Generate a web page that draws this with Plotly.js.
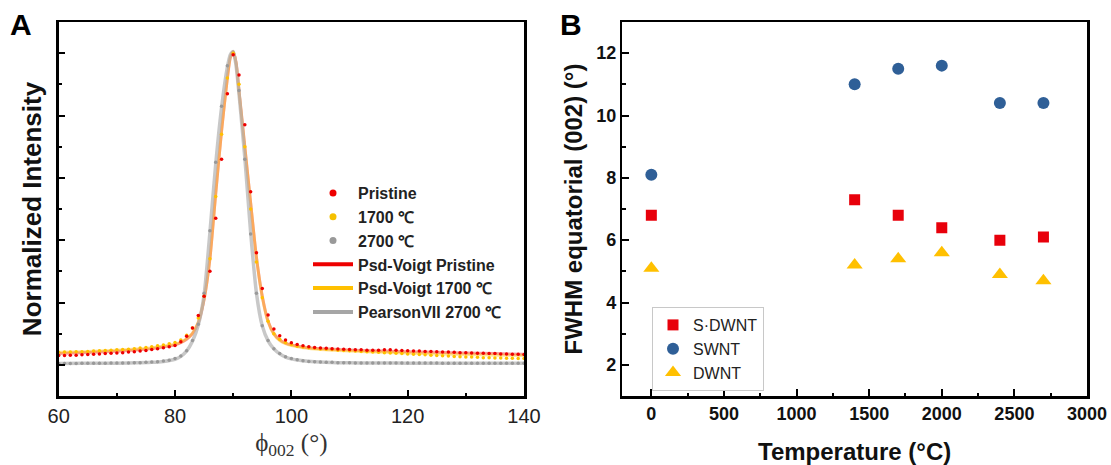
<!DOCTYPE html>
<html>
<head>
<meta charset="utf-8">
<script src="https://cdn.plot.ly/plotly-3.0.1.min.js"></script>
<style>html,body{margin:0;padding:0;background:#fff;}#chart{width:1111px;height:465px;}</style>
</head>
<body>
<div id="chart"></div>
<script>
// ---------- Panel A data ----------
var dotX = [60,61,62,63,64,65,66,67,68,69,70,71,72,73,74,75,76,77,78,79,80,81,82,83,84,85,86,87,88,89,90,91,92,93,94,95,96,97,98,99,100,101,102,103,104,105,106,107,108,109,110,111,112,113,114,115,116,117,118,119,120,121,122,123,124,125,126,127,128,129,130,131,132,133,134,135,136,137,138,139,140];
var pristineDots = [0.030,0.030,0.031,0.031,0.032,0.033,0.034,0.035,0.036,0.037,0.038,0.039,0.041,0.042,0.044,0.046,0.049,0.052,0.055,0.058,0.062,0.074,0.092,0.118,0.158,0.220,0.300,0.470,0.660,0.870,0.995,0.930,0.770,0.555,0.360,0.245,0.160,0.115,0.093,0.080,0.071,0.065,0.061,0.058,0.056,0.054,0.053,0.052,0.051,0.050,0.049,0.048,0.048,0.047,0.047,0.047,0.048,0.048,0.047,0.046,0.045,0.044,0.044,0.043,0.043,0.042,0.041,0.041,0.040,0.039,0.039,0.038,0.037,0.037,0.036,0.036,0.035,0.035,0.034,0.034,0.033];
var dots1700 = [0.040,0.041,0.041,0.042,0.042,0.043,0.044,0.045,0.046,0.047,0.048,0.049,0.050,0.052,0.054,0.056,0.058,0.061,0.064,0.068,0.072,0.080,0.095,0.118,0.150,0.220,0.340,0.540,0.740,0.920,1.000,0.900,0.700,0.500,0.330,0.215,0.140,0.100,0.082,0.072,0.065,0.060,0.057,0.055,0.053,0.051,0.050,0.049,0.047,0.046,0.045,0.044,0.043,0.042,0.041,0.040,0.039,0.038,0.037,0.036,0.035,0.034,0.033,0.032,0.031,0.030,0.029,0.028,0.027,0.026,0.025,0.025,0.024,0.023,0.023,0.022,0.022,0.021,0.021,0.020,0.020];
var dots2700 = [0.004,0.004,0.004,0.004,0.005,0.005,0.005,0.005,0.005,0.006,0.006,0.006,0.006,0.007,0.007,0.008,0.009,0.010,0.012,0.015,0.020,0.028,0.045,0.078,0.130,0.230,0.430,0.650,0.830,0.960,1.000,0.880,0.660,0.420,0.230,0.125,0.078,0.052,0.036,0.026,0.020,0.016,0.013,0.011,0.010,0.009,0.008,0.008,0.007,0.007,0.007,0.006,0.006,0.006,0.006,0.006,0.006,0.006,0.006,0.006,0.006,0.006,0.006,0.006,0.006,0.006,0.005,0.005,0.005,0.005,0.005,0.005,0.005,0.005,0.005,0.005,0.005,0.005,0.005,0.005,0.005];

var fitX = [60,64,68,72,76,78,80,81,82,83,84,85,86,87,88,89,89.5,90,90.5,91,92,93,94,95,96,97,98,99,100,102,104,108,112,116,120,125,130,135,140];
var fitPristine = [0.036,0.039,0.042,0.046,0.052,0.057,0.064,0.071,0.082,0.100,0.135,0.210,0.340,0.550,0.750,0.920,0.985,1.005,0.970,0.880,0.700,0.520,0.345,0.220,0.140,0.100,0.080,0.070,0.064,0.057,0.053,0.049,0.046,0.044,0.042,0.040,0.038,0.036,0.034];
var fit1700 = [0.040,0.042,0.045,0.049,0.055,0.060,0.067,0.073,0.084,0.102,0.137,0.212,0.342,0.552,0.752,0.922,0.987,1.005,0.968,0.878,0.698,0.518,0.343,0.218,0.138,0.098,0.078,0.068,0.062,0.055,0.051,0.046,0.043,0.040,0.038,0.035,0.033,0.031,0.030];
var fit2700 = [0.004,0.005,0.005,0.006,0.008,0.011,0.018,0.027,0.045,0.076,0.128,0.225,0.425,0.645,0.825,0.955,0.995,1.005,0.960,0.870,0.665,0.425,0.230,0.125,0.077,0.051,0.035,0.025,0.019,0.013,0.010,0.007,0.006,0.006,0.005,0.005,0.005,0.005,0.005];

var legendNamesA = ['Pristine','1700 ℃','2700 ℃','Psd-Voigt Pristine','Psd-Voigt 1700 ℃','PearsonVII 2700 ℃'];

// ---------- Panel B data ----------
var temperatures = [0,1400,1700,2000,2400,2700];
var fwhmSDWNT = [6.8,7.3,6.8,6.4,6.0,6.1];
var fwhmSWNT = [8.1,11.0,11.5,11.6,10.4,10.4];
var fwhmDWNT = [5.1,5.2,5.4,5.6,4.9,4.7];
var seriesNamesB = ['S·DWNT','SWNT','DWNT'];

var RED = '#ee0000', YEL = '#ffc000', GRY = '#a6a6a6';
var sans = 'Liberation Sans, Arial, sans-serif';

var traces = [];
// fit lines (pale, drawn first)
traces.push({x: fitX, y: fitPristine, type:'scatter', mode:'lines', line:{color:RED, width:3, shape:'spline', smoothing:0.6}, opacity:0.4, showlegend:false, xaxis:'x', yaxis:'y', hoverinfo:'skip'});
traces.push({x: fitX, y: fit1700, type:'scatter', mode:'lines', line:{color:YEL, width:3, shape:'spline', smoothing:0.6}, opacity:0.4, showlegend:false, xaxis:'x', yaxis:'y', hoverinfo:'skip'});
traces.push({x: fitX, y: fit2700, type:'scatter', mode:'lines', line:{color:'#b0b0b0', width:3.5, shape:'spline', smoothing:0.6}, opacity:0.7, showlegend:false, xaxis:'x', yaxis:'y', hoverinfo:'skip'});
// data dots
traces.push({x: dotX, y: dots2700, type:'scatter', mode:'markers', marker:{color:'#999999', size:3.5}, showlegend:false, xaxis:'x', yaxis:'y'});
traces.push({x: dotX, y: dots1700, type:'scatter', mode:'markers', marker:{color:YEL, size:3.5}, showlegend:false, xaxis:'x', yaxis:'y'});
traces.push({x: dotX, y: pristineDots, type:'scatter', mode:'markers', marker:{color:RED, size:3.5}, showlegend:false, xaxis:'x', yaxis:'y'});
// legend entries for panel A (full colour)
var legMarkColors = [RED, '#f5c000', '#999999'];
for (var i=0;i<3;i++){
  traces.push({x:[null], y:[null], type:'scatter', mode:'markers', name: legendNamesA[i], marker:{color:legMarkColors[i], size:7}, xaxis:'x', yaxis:'y', legend:'legend', legendrank:i+1});
}
var legLineColors = [RED, YEL, GRY];
for (var j=0;j<3;j++){
  traces.push({x:[null], y:[null], type:'scatter', mode:'lines', name: legendNamesA[3+j], line:{color:legLineColors[j], width:4}, xaxis:'x', yaxis:'y', legend:'legend', legendrank:4+j});
}
// panel B
traces.push({x: temperatures, y: fwhmSDWNT, name: seriesNamesB[0], type:'scatter', mode:'markers', marker:{symbol:'square', color:'#e8000b', size:11}, xaxis:'x2', yaxis:'y2', legend:'legend2'});
traces.push({x: temperatures, y: fwhmSWNT, name: seriesNamesB[1], type:'scatter', mode:'markers', marker:{symbol:'circle', color:'#2f5f97', size:12}, xaxis:'x2', yaxis:'y2', legend:'legend2'});
traces.push({x: temperatures, y: fwhmDWNT, name: seriesNamesB[2], type:'scatter', mode:'markers', marker:{symbol:'triangle-up', color:'#ffc000', size:14}, xaxis:'x2', yaxis:'y2', legend:'legend2'});

var W=1111, H=465;
function px(v){return v/W;}
function py(v){return (H-v)/H;}

var axCommon = {showline:true, linewidth:2.5, linecolor:'#000', mirror:true, showgrid:false, zeroline:false, ticks:'inside', tickcolor:'#000', tickwidth:2};

var layout = {
  width:W, height:H,
  margin:{l:0,r:0,t:0,b:0},
  paper_bgcolor:'#fff', plot_bgcolor:'#fff',
  font:{family:sans, color:'#111'},
  xaxis: Object.assign({}, axCommon, {
    domain:[px(58.7), px(524)], anchor:'y', range:[60,140], tick0:0, dtick:20, ticklen:6,
    minor:{dtick:10, ticks:'inside', ticklen:3, tickwidth:2, tickcolor:'#000'},
    tickfont:{family:sans, size:20, color:'#222'},
    title:{text:'ϕ<sub>002</sub> (°)', font:{family:'Liberation Serif, serif', size:25, color:'#333'}, standoff:8}
  }),
  yaxis: Object.assign({}, axCommon, {
    domain:[py(396), py(22)], anchor:'x', range:[-0.1,1.1], tick0:0, dtick:0.2, ticklen:6, showticklabels:false,
    minor:{dtick:0.1, ticks:'inside', ticklen:3, tickwidth:2, tickcolor:'#000'},
    title:{text:'Normalized Intensity', font:{family:sans, size:26, weight:'bold', color:'#111'}, standoff:7}
  }),
  xaxis2: Object.assign({}, axCommon, {
    domain:[px(622.3), px(1087)], anchor:'y2', range:[-200,3000], tick0:0, dtick:500, ticklen:7,
    minor:{dtick:250, ticks:'inside', ticklen:3.5, tickwidth:2, tickcolor:'#000'},
    tickfont:{family:sans, size:18, weight:'bold', color:'#111'},
    title:{text:'Temperature (°C)', font:{family:sans, size:24, weight:'bold', color:'#111'}, standoff:20}
  }),
  yaxis2: Object.assign({}, axCommon, {
    domain:[py(396), py(22)], anchor:'x2', range:[1,13], tick0:0, dtick:2, ticklen:7,
    minor:{dtick:1, ticks:'inside', ticklen:3.5, tickwidth:2, tickcolor:'#000'},
    tickfont:{family:sans, size:18, weight:'bold', color:'#111'},
    title:{text:'FWHM equatorial (002) (°)', font:{family:sans, size:24, weight:'bold', color:'#111'}, standoff:7}
  }),
  legend:{x:px(308), y:py(176), xanchor:'left', yanchor:'top', bgcolor:'rgba(0,0,0,0)', borderwidth:0,
          font:{family:sans, size:16, weight:'bold', color:'#222'}, traceorder:'normal', itemwidth:40},
  legend2:{x:px(652), y:py(307), xanchor:'left', yanchor:'top', bgcolor:'#fff', bordercolor:'#c8c8c8', borderwidth:1,
          font:{family:sans, size:16, color:'#222'}, traceorder:'normal'},
  annotations:[
    {text:'<b>A</b>', x:px(21), y:py(25), xref:'paper', yref:'paper', showarrow:false, font:{family:sans, size:30, color:'#000'}, xanchor:'center', yanchor:'middle'},
    {text:'<b>B</b>', x:px(571), y:py(24), xref:'paper', yref:'paper', showarrow:false, font:{family:sans, size:30, color:'#000'}, xanchor:'center', yanchor:'middle'}
  ]
};

Plotly.newPlot('chart', traces, layout, {staticPlot:true, displayModeBar:false});
</script>
</body>
</html>
